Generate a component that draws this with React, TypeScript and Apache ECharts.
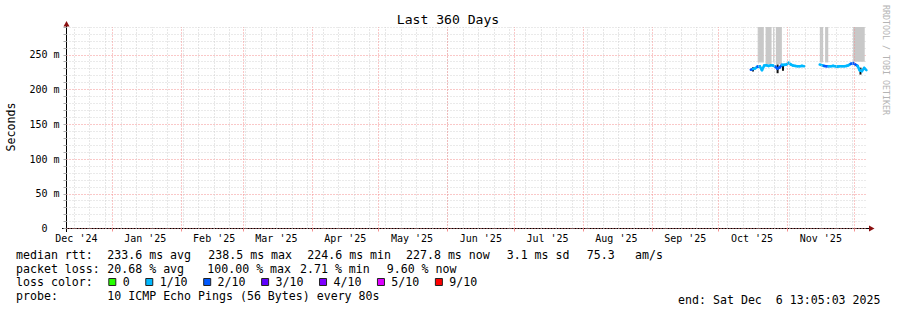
import React, { useEffect, useRef } from "react";
import * as echarts from "echarts";

// ---------- data ----------
const rangeStart = "2024-12-11T13:05:03";
const rangeEnd = "2025-12-06T13:05:03";

const monthStarts = [
  "2025-01-01", "2025-02-01", "2025-03-01", "2025-04-01", "2025-05-01", "2025-06-01",
  "2025-07-01", "2025-08-01", "2025-09-01", "2025-10-01", "2025-11-01", "2025-12-01",
];
const monthLabelDates = [
  "2024-12-16", "2025-01-16", "2025-02-16", "2025-03-16", "2025-04-16", "2025-05-16",
  "2025-06-16", "2025-07-16", "2025-08-16", "2025-09-16", "2025-10-16", "2025-11-16",
];
const monthLabels = [
  "Dec '24", "Jan '25", "Feb '25", "Mar '25", "Apr '25", "May '25",
  "Jun '25", "Jul '25", "Aug '25", "Sep '25", "Oct '25", "Nov '25",
];
const firstWeekLine = "2024-12-15"; // Sundays

const rttDates = [
  "2025-10-15", "2025-10-16", "2025-10-17", "2025-10-18", "2025-10-19", "2025-10-20", "2025-10-21",
  "2025-10-22", "2025-10-23", "2025-10-24", "2025-10-25", "2025-10-26", "2025-10-27", "2025-10-28",
  "2025-10-29", "2025-10-30", "2025-10-31",
  "2025-11-01", "2025-11-02", "2025-11-03", "2025-11-04", "2025-11-05", "2025-11-06", "2025-11-07",
  "2025-11-08", "2025-11-09", "2025-11-10", "2025-11-11", "2025-11-12", "2025-11-13", "2025-11-14",
  "2025-11-15", "2025-11-16", "2025-11-17", "2025-11-18", "2025-11-19", "2025-11-20", "2025-11-21",
  "2025-11-22", "2025-11-23", "2025-11-24", "2025-11-25", "2025-11-26", "2025-11-27", "2025-11-28",
  "2025-11-29", "2025-11-30",
  "2025-12-01", "2025-12-02", "2025-12-03", "2025-12-04", "2025-12-05", "2025-12-06",
];
// median rtt in ms
const rttMedian: (number | null)[] = [
  228.5, 229.5, 230.5, 233, 233.5, 228, 234.5, 235, 234, 235, 234.5, 233, 230, 232, 235.5, 235.5, 236,
  238.5, 236, 234.5, 234, 233.5, 233.5, 234, 233.5,
  null, null, null, null, null, null,
  236, 235, 234, 233.5, 233.5, 233.5, 234, 233.5, 233, 233.5, 233.5, 233.5, 234, 235, 237, 238,
  236, 234, 227.5, 226.5, 231, 228,
];
// loss level (index into lossLabels / lossColors)
const rttLoss = [
  2, 1, 1, 2, 1, 1, 1, 1, 1, 1, 1, 2, 2, 2, 1, 1, 1,
  1, 1, 1, 1, 1, 1, 1, 1,
  1, 1, 1, 1, 1, 1,
  1, 1, 2, 2, 1, 1, 1, 1, 1, 1, 1, 1, 1, 1, 2, 2,
  2, 1, 1, 1, 1, 1,
];

// smoke (rtt spread) blocks, ms
const smokeFrom = ["2025-10-18T14:00", "2025-10-22T03:00", "2025-10-25T13:00", "2025-10-26T18:00", "2025-11-15T13:00", "2025-11-17T22:00", "2025-11-30T13:00"];
const smokeTo = ["2025-10-21T08:00", "2025-10-24T20:00", "2025-10-26T01:00", "2025-10-29T11:00", "2025-11-17T01:00", "2025-11-19T08:00", "2025-12-05T18:00"];
const smokeLow = [239, 236.5, 239, 236.5, 239, 239, 240];
const smokeHigh = [290, 290, 290, 290, 290, 290, 290];

// dark low-rtt spikes, ms
const darkAt = ["2025-10-16T11:00", "2025-10-27T13:00", "2025-10-29T23:00", "2025-12-03T20:00"];
const darkLow = [226, 223.5, 227, 221.5];
const darkHigh = [232, 236, 234, 231.5];

const lossLabels = ["0", "1/10", "2/10", "3/10", "4/10", "5/10", "9/10"];
const lossColors = ["#26ff00", "#00b8ff", "#0059ff", "#5e00ff", "#7e00ff", "#dd00ff", "#ff0000"];

const titleText = "Last 360 Days";
const yTitle = "Seconds";
const sideText = "RRDTOOL / TOBI OETIKER";
const medianRow = ["median rtt:", "233.6 ms avg", "238.5 ms max", "224.6 ms min", "227.8 ms now", "3.1 ms sd", "75.3", "am/s"];
const lossRow = ["packet loss:", "20.68 % avg", "100.00 % max", "2.71 % min", "9.60 % now"];
const colorRowTitle = "loss color:";
const probeRow = ["probe:", "10 ICMP Echo Pings (56 Bytes) every 80s"];
const endText = "end: Sat Dec  6 13:05:03 2025";

// ---------- layout ----------
const FONT = '"DejaVu Sans Mono", monospace';
const medianRowX = [16, 107.3, 208.3, 307.3, 406, 506.7, 586.7, 635];
const lossRowX = [16, 107.3, 207.3, 300, 386.7];
const probeRowX = [16, 107.3];
const ADV = 6.98;

const ts = (s: string) =>
  Date.parse(s.length === 10 ? s + "T00:00:00Z" : s.length === 16 ? s + ":00Z" : s + "Z");

export default function App() {
  const ref = useRef<HTMLDivElement>(null);

  useEffect(() => {
    if (!ref.current) return;
    const chart = echarts.init(ref.current, undefined, { renderer: "svg" });

    const xMin = ts(rangeStart);
    const xMax = ts(rangeEnd);
    const labelVals = monthLabelDates.map(ts);
    const monthVals = monthStarts.map(ts);

    const weekVals: number[] = [];
    for (let t = ts(firstWeekLine); t < xMax; t += 7 * 86400000) weekVals.push(t);

    const segData: number[][] = [];
    for (let i = 0; i < rttDates.length - 1; i++) {
      const a = rttMedian[i];
      const b = rttMedian[i + 1];
      if (a == null || b == null) continue;
      segData.push([ts(rttDates[i] + "T12:00"), a, ts(rttDates[i + 1] + "T12:00"), b, rttLoss[i]]);
    }
    const smokeData = smokeFrom.map((s, i) => [ts(s), ts(smokeTo[i]), smokeLow[i], smokeHigh[i]]);
    const darkData = darkAt.map((s, i) => [ts(s), darkLow[i], darkHigh[i]]);

    const text = (x: number, y: number, t: string, align = "left", size = 11.6, fill = "#000") => ({
      type: "text",
      x,
      y,
      silent: true,
      style: { text: t, fill, font: `${size}px ${FONT}`, textAlign: align, textVerticalAlign: "middle" },
    });

    const graphics: any[] = [];
    // axes lines and arrows
    graphics.push({ type: "line", silent: true, shape: { x1: 62, y1: 228.5, x2: 870, y2: 228.5 }, style: { stroke: "#000", lineWidth: 1 } });
    graphics.push({ type: "line", silent: true, shape: { x1: 66.5, y1: 22, x2: 66.5, y2: 232 }, style: { stroke: "#000", lineWidth: 1 } });
    graphics.push({ type: "polygon", silent: true, shape: { points: [[63.5, 26.5], [69.5, 26.5], [66.5, 21]] }, style: { fill: "#8b1010" } });
    graphics.push({ type: "polygon", silent: true, shape: { points: [[869, 225.5], [869, 231.5], [874.5, 228.5]] }, style: { fill: "#8b1010" } });
    // title & side text
    graphics.push(text(448, 19.3, titleText, "center", 13.1));
    graphics.push({
      type: "text", x: 11, y: 127, rotation: Math.PI / 2, silent: true,
      style: { text: yTitle, fill: "#000", font: `11.6px ${FONT}`, textAlign: "center", textVerticalAlign: "middle" },
    });
    graphics.push({
      type: "text", x: 886, y: 5, rotation: -Math.PI / 2, silent: true,
      style: { text: sideText, fill: "#b4b4b4", font: `8.3px ${FONT}`, textAlign: "left", textVerticalAlign: "middle" },
    });
    // legend rows
    medianRow.forEach((t, i) => graphics.push(text(medianRowX[i], 255, t)));
    lossRow.forEach((t, i) => graphics.push(text(lossRowX[i], 268.5, t)));
    graphics.push(text(16, 282, colorRowTitle));
    let bx = 108.3;
    lossLabels.forEach((lab, i) => {
      graphics.push({ type: "rect", silent: true, shape: { x: bx + 0.5, y: 278.5, width: 7, height: 7 }, style: { fill: lossColors[i], stroke: "#222", lineWidth: 1 } });
      const tx = bx + 14.4;
      graphics.push(text(tx, 282, lab));
      bx = tx + lab.length * ADV + 15.6;
    });
    probeRow.forEach((t, i) => graphics.push(text(probeRowX[i], 296, t)));
    // end text (tokens so double space survives)
    const endLeft = 880.5 - endText.length * ADV;
    const re = /\S+(?: \S+)*/g;
    let m: RegExpExecArray | null;
    while ((m = re.exec(endText))) graphics.push(text(endLeft + m.index * ADV, 300, m[0]));

    const gridLines = [
      ...weekVals.map((t) => ({ xAxis: t, lineStyle: { color: "#cfcfcf", type: [1, 2], width: 1 } })),
      ...monthVals.map((t) => ({ xAxis: t, lineStyle: { color: "#f49090", type: [1, 2], width: 1 } })),
    ];

    chart.setOption({
      animation: false,
      backgroundColor: "#ffffff",
      grid: { left: 66.5, right: 30.5, top: 27, bottom: 81.5, containLabel: false },
      xAxis: {
        type: "value",
        min: xMin,
        max: xMax,
        axisLine: { show: false },
        splitLine: { show: false },
        axisTick: { show: true, customValues: monthVals, length: 3, lineStyle: { color: "#f49090" } },
        axisLabel: {
          customValues: labelVals,
          margin: 5,
          color: "#000",
          fontFamily: FONT,
          fontSize: 10,
          formatter: (v: number) => {
            const i = labelVals.indexOf(v);
            return i >= 0 ? monthLabels[i] : "";
          },
        },
      },
      yAxis: {
        type: "value",
        min: 0,
        max: 290,
        interval: 10,
        axisLine: { show: false },
        axisTick: { show: true, length: 3, lineStyle: { color: "#aaaaaa" } },
        splitLine: {
          show: true,
          lineStyle: { color: ["#f49090", "#d4d4d4", "#d4d4d4", "#d4d4d4", "#d4d4d4"], type: [1, 2], width: 1 },
        },
        axisLabel: {
          margin: 7,
          color: "#000",
          fontFamily: FONT,
          fontSize: 10,
          formatter: (v: number) => (v % 50 !== 0 ? "" : v === 0 ? "{z|0}" : `${v} m`),
          rich: { z: { fontFamily: FONT, fontSize: 10, color: "#000", padding: [0, 12, 0, 0] } },
        },
      },
      series: [
        {
          type: "line",
          data: [],
          z: 1,
          silent: true,
          markLine: { silent: true, symbol: ["none", "none"], label: { show: false }, animation: false, data: gridLines },
        },
        {
          type: "custom",
          z: 2,
          silent: true,
          data: smokeData,
          encode: { x: [0, 1], y: [2, 3] },
          renderItem: (_p: any, api: any) => {
            const p1 = api.coord([api.value(0), api.value(3)]);
            const p2 = api.coord([api.value(1), api.value(2)]);
            return { type: "rect", shape: { x: p1[0], y: p1[1], width: p2[0] - p1[0], height: p2[1] - p1[1] }, style: { fill: "#c8c8c8" } };
          },
        },
        {
          type: "custom",
          z: 3,
          silent: true,
          data: darkData,
          encode: { x: 0, y: [1, 2] },
          renderItem: (_p: any, api: any) => {
            const p1 = api.coord([api.value(0), api.value(1)]);
            const p2 = api.coord([api.value(0), api.value(2)]);
            return { type: "line", shape: { x1: p1[0], y1: p1[1], x2: p2[0], y2: p2[1] }, style: { stroke: "#111", lineWidth: 2 } };
          },
        },
        {
          type: "custom",
          z: 4,
          silent: true,
          data: segData,
          encode: { x: [0, 2], y: [1, 3] },
          renderItem: (_p: any, api: any) => {
            const p1 = api.coord([api.value(0), api.value(1)]);
            const p2 = api.coord([api.value(2), api.value(3)]);
            return {
              type: "line",
              shape: { x1: p1[0], y1: p1[1], x2: p2[0], y2: p2[1] },
              style: { stroke: lossColors[api.value(4)], lineWidth: 2.6, lineCap: "round" },
            };
          },
        },
      ],
      graphic: graphics,
    });

    return () => chart.dispose();
  }, []);

  return <div ref={ref} style={{ position: "absolute", left: 0, top: 0, width: 897, height: 310, background: "#fff" }} />;
}
